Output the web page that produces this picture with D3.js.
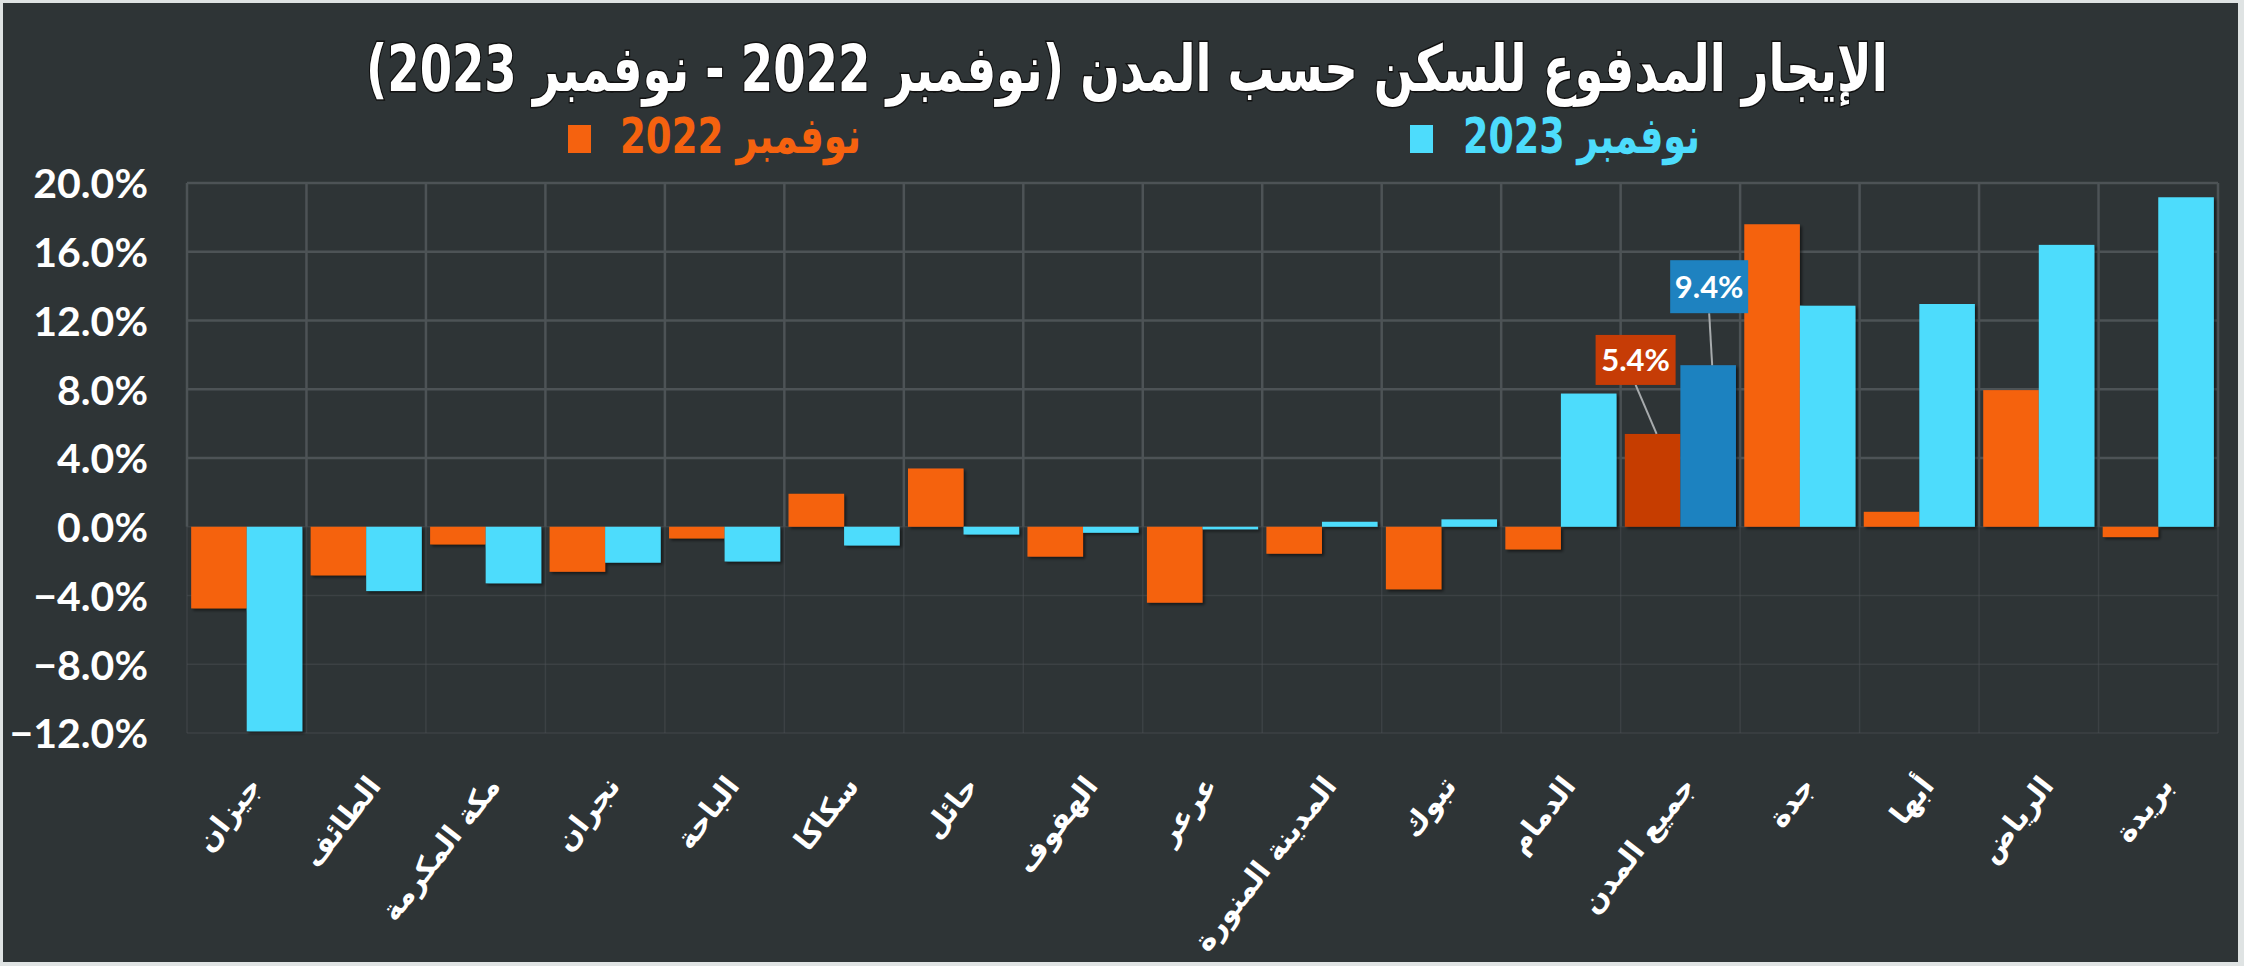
<!DOCTYPE html>
<html><head><meta charset="utf-8">
<script src="https://cdn.jsdelivr.net/npm/d3@7"></script>
<style>
html,body{margin:0;padding:0;background:#dfe3e3;}
svg{display:block;}
</style></head>
<body>
<svg id="chart" width="2244" height="966"></svg>
<script>
const cities = ["جيزان","الطائف","مكة المكرمة","نجران","الباحة","سكاكا","حائل","الهفوف","عرعر","المدينة المنورة","تبوك","الدمام","جميع المدن","جدة","أبها","الرياض","بريدة"];
const nov2022 = [-4.75,-2.83,-1.03,-2.62,-0.68,1.92,3.39,-1.74,-4.42,-1.57,-3.64,-1.32,5.4,17.6,0.87,7.95,-0.6];
const nov2023 = [-11.9,-3.74,-3.29,-2.09,-2.02,-1.09,-0.45,-0.35,-0.15,0.29,0.43,7.75,9.4,12.86,12.96,16.4,19.17];
const yTicks = [-12,-8,-4,0,4,8,12,16,20];
const seriesNames = ["نوفمبر 2022","نوفمبر 2023"];
const titleText = "الإيجار المدفوع للسكن حسب المدن (نوفمبر 2022 - نوفمبر 2023)";
const highlightCity = "جميع المدن";

(function(){
const W = 2244, H = 966;
const svg = d3.select("#chart");
const C = {bg:"#2e3436", o:"#f5620f", c:"#4ddcfc", oH:"#c63c06", cH:"#1e82c0", grid:"#4d5356"};
const arFont = "'DejaVu Sans', sans-serif";
const numFont = "Lato, 'Open Sans', sans-serif";

svg.append("rect").attr("x",3).attr("y",3).attr("width",W-9).attr("height",H-7).attr("fill",C.bg);

const defs = svg.append("defs");
const f = defs.append("filter").attr("id","sh").attr("x","-10%").attr("y","-10%").attr("width","130%").attr("height","130%");
f.append("feDropShadow").attr("dx",2).attr("dy",2).attr("stdDeviation",1.5).attr("flood-color","#000").attr("flood-opacity",0.55);

const pL = 187, pR = 2218, pT = 183, pB = 733;
const x = d3.scaleBand().domain(cities).range([pL,pR]).padding(0);
const xs = d3.scaleBand().domain(["a","b"]).range([0,x.bandwidth()]).paddingOuter(0.075).paddingInner(0);
const y = d3.scaleLinear().domain([-12,20]).range([pB,pT]);

function fitText(sel, xLeft, baseY, targetW){
  const len = sel.node().getComputedTextLength();
  const s = targetW/len;
  sel.attr("x",0).attr("y",0).attr("text-anchor","start")
     .attr("transform",`translate(${xLeft},${baseY}) scale(${s},1)`);
}

// gridlines
const g = svg.append("g");
g.selectAll("line.h").data(yTicks).join("line")
  .attr("x1",pL).attr("x2",pR).attr("y1",d=>y(d)).attr("y2",d=>y(d))
  .attr("stroke",C.grid).attr("stroke-width",d=>d>0?2.5:1.5).attr("stroke-opacity",d=>d>0?1:0.45);
const vb = d3.range(cities.length+1).map(i=> i<cities.length ? x(cities[i]) : pR);
g.selectAll("line.v1").data(vb).join("line")
  .attr("x1",d=>d).attr("x2",d=>d).attr("y1",y(20)).attr("y2",y(0))
  .attr("stroke",C.grid).attr("stroke-width",2.5);
g.selectAll("line.v2").data(vb).join("line")
  .attr("x1",d=>d).attr("x2",d=>d).attr("y1",y(0)).attr("y2",y(-12))
  .attr("stroke",C.grid).attr("stroke-width",1.5).attr("stroke-opacity",0.45);

// y axis labels
const yAxis = d3.axisLeft(y).tickValues(yTicks).tickFormat(d=>d3.format(".1f")(d)+"%").tickSize(0).tickPadding(0);
const ya = svg.append("g").attr("transform",`translate(148,0)`).call(yAxis);
ya.select(".domain").remove();
ya.selectAll("text").attr("font-family",numFont).attr("font-weight","bold").attr("font-size",41).attr("fill","#fff").attr("dy","0.36em");

// bars
const data = cities.map((c,i)=>({c, v:[nov2022[i], nov2023[i]]}));
const bars = svg.append("g").attr("filter","url(#sh)");
data.forEach(d=>{
  const hl = d.c===highlightCity;
  ["a","b"].forEach((k,j)=>{
    const v = d.v[j];
    bars.append("rect")
      .attr("x", x(d.c)+xs(k)).attr("width", xs.bandwidth())
      .attr("y", y(Math.max(0,v))).attr("height", Math.abs(y(v)-y(0)))
      .attr("fill", hl ? (j===0?C.oH:C.cH) : (j===0?C.o:C.c));
  });
});

// annotations for highlight
const hi = cities.indexOf(highlightCity);
const annot = [
  {v:nov2022[hi], k:"a", fill:C.oH, dx:-17, gap:49, w:80, h:50},
  {v:nov2023[hi], k:"b", fill:C.cH, dx:1, gap:52, w:78, h:53}
];
annot.forEach(a=>{
  const cx = x(highlightCity)+xs(a.k)+xs.bandwidth()/2;
  const by = y(a.v);
  const bx = cx + a.dx;
  const boxBottom = by - a.gap;
  svg.append("line").attr("x1",bx).attr("y1",boxBottom).attr("x2",cx+4).attr("y2",by)
    .attr("stroke","#a7abad").attr("stroke-width",2);
  svg.append("rect").attr("x",bx-a.w/2).attr("y",boxBottom-a.h).attr("width",a.w).attr("height",a.h).attr("fill",a.fill);
  svg.append("text").attr("x",bx).attr("y",boxBottom-a.h/2).attr("dy","0.36em")
    .attr("text-anchor","middle").attr("font-family",numFont).attr("font-weight","bold").attr("font-size",31).attr("fill","#fff")
    .text(d3.format(".1f")(a.v)+"%");
});

// x labels
svg.append("g").selectAll("text").data(cities).join("text")
  .attr("transform",d=>`translate(${x(d)+x.bandwidth()/2},${774}) rotate(-52)`)
  .attr("text-anchor","end").attr("dy","0.7em")
  .attr("font-family",arFont).attr("font-weight","bold").attr("font-size",29).attr("fill","#fff")
  .text(d=>d);

// title
const t = svg.append("text")
  .attr("font-family",arFont).attr("font-weight","bold").attr("font-size",64).attr("fill","#fff")
  .style("paint-order","stroke").attr("stroke","#111").attr("stroke-width",3)
  .text(titleText);
fitText(t, 366, 91, 1522);

// legend
const leg = [
  {name:seriesNames[0], color:C.o, sx:568, tx:620, tw:241},
  {name:seriesNames[1], color:C.c, sx:1410, tx:1463, tw:237}
];
leg.forEach(l=>{
  svg.append("rect").attr("x",l.sx).attr("y",125).attr("width",23).attr("height",28).attr("fill",l.color);
  const lt = svg.append("text")
    .attr("font-family",arFont).attr("font-weight","bold").attr("font-size",50).attr("fill",l.color)
    .text(l.name);
  fitText(lt, l.tx, 153, l.tw);
});
})();
</script>
</body></html>
